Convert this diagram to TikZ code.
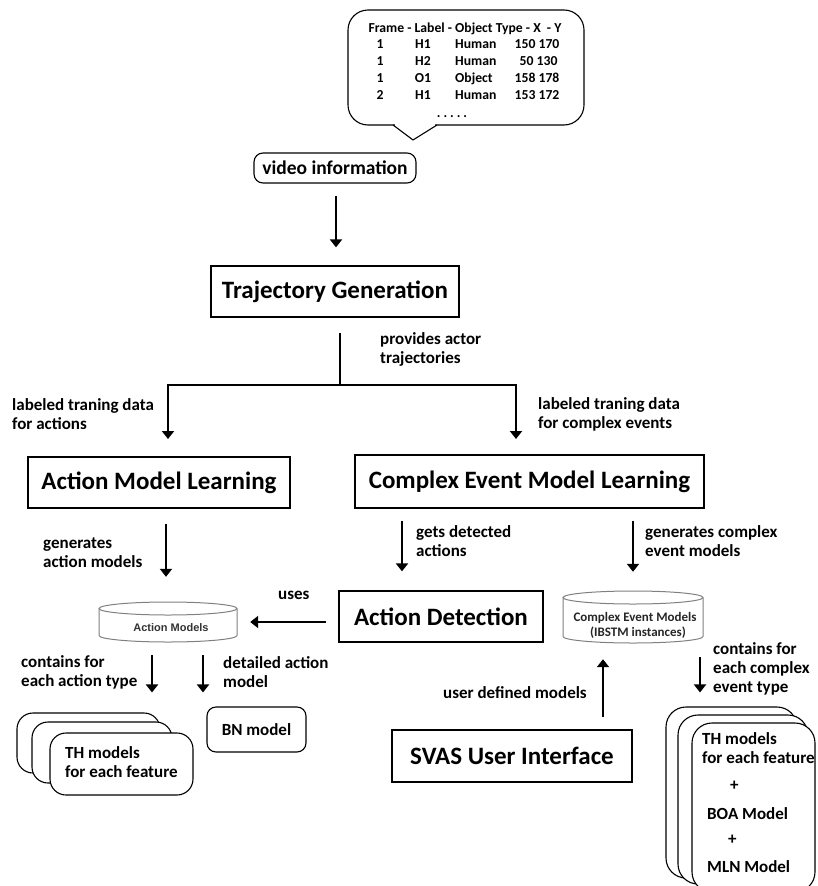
\documentclass[tikz,border=0pt]{standalone}
\usepackage{fontspec}
\setmainfont{Carlito}
\newfontfamily\arialf{Liberation Sans}
\usetikzlibrary{arrows.meta}
\tikzset{
 box/.style={draw, line width=1.3pt, inner sep=0pt, font=\fontsize{25}{30}\selectfont\bfseries},
 rbox/.style={draw, line width=1.1pt, rounded corners=9pt, inner sep=0pt},
 lbl/.style={font=\fontsize{17}{19}\selectfont\bfseries, align=left, anchor=west, inner sep=0pt},
 arr/.style={line width=2.2pt, -{Triangle[length=8pt,width=12pt]}},
 plain/.style={line width=2.2pt},
 cyl/.style={draw=black!50, line width=1pt, fill=white},
 tab/.style={font=\fontsize{13.7}{15}\selectfont\bfseries, inner sep=0pt, text height=9.5pt, text depth=3pt},
 stackbox/.style={draw, line width=1.1pt, fill=white, rounded corners=16pt, inner sep=0pt},
 ghost/.style={inner sep=0pt},
}
\begin{document}
\begin{tikzpicture}[x=1pt,y=-1pt]
\useasboundingbox (0,0) rectangle (817,886);
\clip (0,0) rectangle (817,886);

% speech bubble with table
\node[draw, line width=1.1pt, rounded corners=20pt, minimum width=236pt, minimum height=115pt, inner sep=0pt] (bubble) at (466,67.5) {};
\draw[white, line width=2pt] (395,125) -- (435,125);
\draw[line width=1.1pt, line join=round] (393,125) -- (413,140) -- (437,125);
\node[tab] (hdr) at (465,29) {Frame - Label - Object Type - X \ - Y};
\foreach \yy/\fa/\fb/\fc/\fd [count=\i] in {45/1/H1/Human/150 170, 62/1/H2/Human/\ 50 130, 79/1/O1/Object/158 178, 96/2/H1/Human/153 172}{
  \node[tab] (ra\i) at (380,\yy) {\fa};
  \node[tab] (rb\i) at (423,\yy) {\fb};
  \node[tab, anchor=west] (rc\i) at (455,\yy) {\fc};
  \node[tab] (rd\i) at (537,\yy) {\fd};
}
\node[tab] (dots) at (452,114) {.\hspace{3pt}.\hspace{3pt}.\hspace{3pt}.\hspace{3pt}.};

% main boxes
\node[rbox, minimum width=162pt, minimum height=30pt, font=\fontsize{19.5}{22}\selectfont\bfseries] (video) at (335,168) {video information};
\node[box, minimum width=248pt, minimum height=51pt] (traj) at (335,291.5) {Trajectory Generation};
\node[box, minimum width=262pt, minimum height=51pt] (aml) at (159,482.5) {Action Model Learning};
\node[box, minimum width=349pt, minimum height=53pt] (ceml) at (529.5,481.5) {Complex Event Model Learning};
\node[box, minimum width=204pt, minimum height=51pt] (adet) at (441,616.5) {Action Detection};
\node[box, minimum width=240pt, minimum height=52pt] (svas) at (512,756) {SVAS User Interface};
\node[rbox, minimum width=99pt, minimum height=45pt, font=\fontsize{17}{19}\selectfont\bfseries] (bn) at (256.5,729.5) {BN model};

% cylinders
\node[ghost, minimum width=138pt, minimum height=40pt] (am) at (168,622) {};
\draw[cyl] (99,608.5) -- (99,635.5) arc[start angle=180, end angle=360, x radius=69pt, y radius=6.5pt] -- (237,608.5);
\draw[cyl] (168,608.5) ellipse [x radius=69pt, y radius=6.5pt];
\node[ghost, font=\arialf\fontsize{11}{13}\selectfont\bfseries, text=black!80] (amtext) at (171,628) {Action Models};

\node[ghost, minimum width=140pt, minimum height=52pt] (cem) at (633,617) {};
\draw[cyl] (563,597.5) -- (563,636.5) arc[start angle=180, end angle=360, x radius=70pt, y radius=6.5pt] -- (703,597.5);
\draw[cyl] (633,597.5) ellipse [x radius=70pt, y radius=6.5pt];
\node[ghost, font=\fontsize{13}{15}\selectfont\bfseries, text=black!85, align=center] (cemtext) at (635,625.5) {Complex Event Models\\ \ \ (IBSTM instances)};

% left stack
\node[stackbox, minimum width=143pt, minimum height=60pt] (th1) at (88.5,743) {};
\node[stackbox, minimum width=140pt, minimum height=61pt] (th2) at (102,752.5) {};
\node[stackbox, minimum width=143pt, minimum height=62pt] (th3) at (121.5,764) {};
\node[lbl] (thtext) at (65,762.5) {TH models\\for each feature};

% right stack
\node[stackbox, rounded corners=20pt, minimum width=131pt, minimum height=171pt] (rs1) at (731.5,792.5) {};
\node[stackbox, rounded corners=20pt, minimum width=130pt, minimum height=169pt] (rs2) at (743,799.5) {};
\node[stackbox, rounded corners=20pt, minimum width=123pt, minimum height=169pt] (rs3) at (753.5,807.5) {};
\node[lbl] (rst1) at (702,748) {TH models\\for each feature};
\node[lbl] (rst2) at (730,786) {+};
\node[lbl] (rst3) at (707,814) {BOA Model};
\node[lbl] (rst4) at (728,840) {+};
\node[lbl] (rst5) at (707,867) {MLN Model};

% connectors
\draw[arr] ([xshift=1pt,yshift=-12pt]video.south) -- ([xshift=1pt,yshift=18pt]traj.north);
\coordinate (split) at (340,385);
\coordinate (al) at (168,439);
\coordinate (ar) at (516,439);
\draw[plain] ([xshift=5pt,yshift=-15pt]traj.south) -- (split);
\draw[arr] (split) -| (al);
\draw[arr] (split) -| (ar);
\draw[arr] ([xshift=7pt,yshift=-15pt]aml.south) -- ([xshift=-2pt,yshift=25pt]am.north);
\draw[arr] ([xshift=-127.5pt,yshift=-12pt]ceml.south) -- ([xshift=-39pt,yshift=19pt]adet.north);
\draw[arr] ([xshift=103.5pt,yshift=-12pt]ceml.south) -- ([xshift=0pt,yshift=19pt]cem.north);
\coordinate (a6) at ([xshift=-12pt]adet.west);
\draw[arr] (a6 |- am.east) -- ([xshift=13pt]am.east);
\draw[arr] ([xshift=-16pt,yshift=-13pt]am.south) -- ([xshift=63.5pt,yshift=20pt]th1.north);
\draw[arr] ([xshift=35pt,yshift=-13pt]am.south) -- ([xshift=-53.5pt,yshift=14pt]bn.north);
\draw[arr] ([xshift=91pt,yshift=12pt]svas.north) -- ([xshift=-30pt,yshift=-16pt]cem.south);
\draw[arr] ([xshift=67pt,yshift=-14pt]cem.south) -- ([xshift=-31.5pt,yshift=14pt]rs1.north);

% labels
\node[lbl] (l1) at (380,349) {provides actor\\trajectories};
\node[lbl] (l2) at (12,414.5) {labeled traning data\\for actions};
\node[lbl] (l3) at (538,414) {labeled traning data\\for complex events};
\node[lbl] (l4) at (43,552.5) {generates\\action models};
\node[lbl] (l5) at (416,541) {gets detected\\actions};
\node[lbl] (l6) at (645,541) {generates complex\\event models};
\node[lbl] (l7) at (278,595) {uses};
\node[lbl] (l8) at (21,672) {contains for\\each action type};
\node[lbl] (l9) at (223,672) {detailed action\\model};
\node[lbl] (l10) at (443,693) {user defined models};
\node[lbl] (l11) at (713,668.5) {contains for\\each complex\\event type};
\end{tikzpicture}
\end{document}
